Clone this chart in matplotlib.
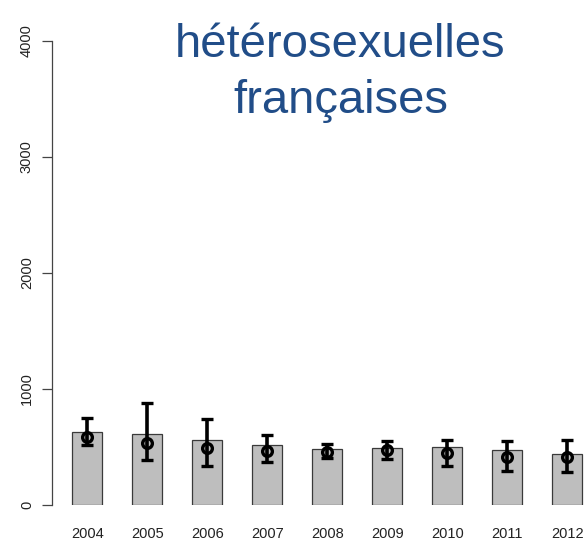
import matplotlib
matplotlib.use("Agg")
import matplotlib.pyplot as plt
import numpy as np

years = ["2004", "2005", "2006", "2007", "2008", "2009", "2010", "2011", "2012"]
bar_values = [632, 609, 560, 517, 483, 489, 497, 477, 437]
point_values = [583, 537, 488, 468, 457, 471, 448, 417, 414]
err_high = [753, 877, 741, 606, 526, 552, 557, 549, 563]
err_low = [514, 385, 333, 368, 402, 394, 333, 296, 284]
title_lines = ["hétérosexuelles", "françaises"]

plt.rcParams['font.family'] = ['Liberation Sans', 'DejaVu Sans']

fig = plt.figure(figsize=(5.85, 5.42), dpi=100)
ax = fig.add_axes([52 / 585, 37 / 542, 533 / 585, 464 / 542])

x = np.arange(len(years))
ax.bar(x, bar_values, width=0.5, color="#bebebe", edgecolor="#3a3a3a", linewidth=0.9, zorder=1)

pts = np.array(point_values)
yerr = np.array([pts - np.array(err_low), np.array(err_high) - pts])
ax.errorbar(x, pts, yerr=yerr, fmt="o", color="black", mfc="none", mec="black",
            ms=7, mew=2.4, elinewidth=2.6, capsize=4, capthick=2.6, zorder=3)

ax.set_xlim(-0.588, 8.295)
ax.set_ylim(0, 4000)
for s in ["top", "right", "bottom"]:
    ax.spines[s].set_visible(False)
ax.spines["left"].set_color("#444444")
ax.spines["left"].set_linewidth(0.9)
ax.set_yticks([0, 1000, 2000, 3000, 4000])
ax.set_yticklabels(["0", "1000", "2000", "3000", "4000"], rotation=90, va="center", fontsize=10.5)
ax.tick_params(axis="y", length=7, width=0.9, color="#444444", pad=6, labelcolor="#222222")
ax.set_xticks(x)
ax.set_xticklabels(years, fontsize=10.5)
ax.tick_params(axis="x", length=0, pad=16, labelcolor="#222222")

# title, one line at a time so the baselines sit where they do in the original
fig.text(340 / 585, 1 - 57 / 542, title_lines[0], ha="center", va="baseline",
         fontsize=34, color="#214d88")
fig.text(341 / 585, 1 - 113 / 542, title_lines[1], ha="center", va="baseline",
         fontsize=34, color="#214d88")

fig.savefig("out.png", dpi=100)
